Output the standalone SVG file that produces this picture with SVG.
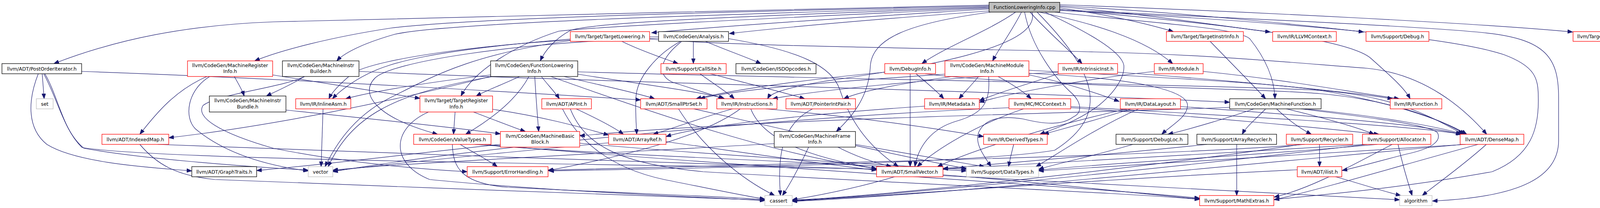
<svg xmlns="http://www.w3.org/2000/svg" width="4227" height="533" viewBox="0 0 4227 533">
<style>
.n rect{fill:#ffffff;stroke:#000000;stroke-width:1.3}
.n.r rect{stroke:#ff0000}
.n.s rect{stroke:#bfbfbf}
.n.root rect{fill:#bfbfbf}
.n text{font-family:"DejaVu Sans","Liberation Sans",Arial,sans-serif;font-size:12.4px;text-anchor:middle;fill:#000000}
#edges path{fill:none;stroke:#191970;stroke-width:1.2;marker-end:url(#arr)}
</style>
<defs>
<marker id="arr" markerUnits="userSpaceOnUse" markerWidth="14" markerHeight="10" refX="13" refY="5" orient="auto">
<path d="M0,0 L13,5 L0,10 z" fill="#191970" stroke="#191970" stroke-width="1"/>
</marker>
</defs>
<rect x="0" y="0" width="4227" height="533" fill="#ffffff"/>
<g id="edges">
<path d="M2532,13 C2000,25 1100,45 700,56 C480,64 300,100 138,163"/>
<path d="M2532,15 C2000,28 1250,42 1000,72 C850,95 720,128 652,156"/>
<path d="M2532,17 C2000,33 1150,55 1010,88 C940,108 885,132 862,156"/>
<path d="M2532,19 C2000,38 1520,55 1460,78 C1420,100 1395,130 1383,156"/>
<path d="M2532,21 C2000,45 1520,68 1430,80 C1320,115 1215,180 1180,246"/>
<path d="M2532,23 C2300,38 1900,62 1668,84"/>
<path d="M2532,28 C2300,45 2050,65 1867,86"/>
<path d="M2536,31 C2320,60 2232,100 2228,170 C2224,250 2180,300 2141,337"/>
<path d="M2600,31 C2530,80 2420,120 2360,163"/>
<path d="M2615,31 C2590,80 2560,120 2541,156"/>
<path d="M2675,31 C2780,80 2870,130 2877,167 C2880,200 2850,240 2813,270 C2760,310 2700,330 2662,344"/>
<path d="M2623,31 C2640,120 2700,200 2745,240 C2770,265 2770,290 2747,300 C2720,320 2680,320 2620,305 C2560,295 2520,305 2505,340 C2495,370 2520,400 2537,427"/>
<path d="M2637,31 C2680,80 2740,130 2770,163"/>
<path d="M2660,31 C2800,60 2930,100 3002,163"/>
<path d="M2713,20 C2850,40 2950,65 3004,81"/>
<path d="M2713,17 C2950,38 3150,70 3252,82"/>
<path d="M2713,15 C3000,30 3350,65 3491,82"/>
<path d="M2713,12 C3200,30 3800,60 4026,82"/>
<path d="M2700,31 C2950,60 3170,70 3200,100 C3240,150 3262,200 3264,253"/>
<path d="M2713,24 C3100,60 3450,95 3510,150 C3560,195 3595,225 3610,253"/>
<path d="M2634,192 C2700,205 2800,235 2865,260"/>
<path d="M2642,31 C2670,130 2300,180 2100,210 C2000,228 1972,240 1965,253"/>
<path d="M2655,31 C2800,180 2850,290 2700,385 C2500,420 1700,432 1405,438"/>
<path d="M2713,27 C3200,50 3700,90 3850,140 C3930,170 3938,200 3938,250 C3940,330 3920,400 3820,440 C3600,480 3400,498 3262,511"/>
<path d="M2713,25 C3200,48 3650,68 3800,84 C3960,100 3990,150 3990,250 L3990,360 C3990,450 3900,505 3667,515"/>
<path d="M1256,192 C1100,210 950,235 885,253"/>
<path d="M1330,196 C1290,215 1245,232 1219,246"/>
<path d="M1354,196 C1320,260 1250,310 1192,344"/>
<path d="M1369,196 C1372,250 1376,300 1379,337"/>
<path d="M1386,196 C1400,215 1420,235 1432,253"/>
<path d="M1444,196 C1520,215 1620,235 1676,253"/>
<path d="M1479,190 C1600,210 1800,235 1855,253"/>
<path d="M1410,196 C1700,300 2000,400 2244,432"/>
<path d="M1479,184 C2000,200 3000,215 3350,230 C3550,240 3650,290 3745,344"/>
<path d="M1256,196 C1000,260 700,322 432,353"/>
<path d="M1262,196 C1000,240 900,300 840,427"/>
<path d="M1592,106 C1640,130 1700,150 1736,163"/>
<path d="M1460,100 C1100,130 1000,160 940,190 C900,210 868,235 851,253"/>
<path d="M1460,104 C1200,140 1100,200 1000,250 C900,300 855,380 832,427"/>
<path d="M1663,100 C1900,120 2500,125 2800,133 C3100,140 3300,160 3500,175 C3650,190 3750,280 3806,344"/>
<path d="M1775,106 L1775,163"/>
<path d="M1806,106 C1850,125 1920,150 1948,163"/>
<path d="M1742,106 C1680,140 1630,200 1628,250 C1626,290 1629,320 1630,344"/>
<path d="M1745,106 C1690,150 1680,190 1720,210 C1780,230 1830,245 1852,253"/>
<path d="M1686,98 C1300,110 1000,160 960,200 C920,240 960,300 1120,344"/>
<path d="M1686,94 C1300,100 950,150 900,190 C870,215 850,235 842,253"/>
<path d="M1865,99 C2050,130 2130,170 2150,230 C2180,320 2230,380 2300,427"/>
<path d="M1792,189 C1820,210 1860,235 1880,253"/>
<path d="M1818,189 C1900,210 2000,235 2060,253"/>
<path d="M2330,189 L2330,427"/>
<path d="M2345,189 C2370,210 2400,235 2416,253"/>
<path d="M2265,185 C2100,200 1900,225 1782,253"/>
<path d="M2368,189 C2600,220 3200,225 3380,240 C3550,255 3680,300 3750,344"/>
<path d="M2505,196 C2490,215 2470,235 2455,253"/>
<path d="M2555,196 C2590,215 2620,235 2640,253"/>
<path d="M2531,196 C2535,260 2520,290 2450,310 C2380,330 2350,380 2342,427"/>
<path d="M2634,180 C3000,200 3300,215 3400,235 C3550,262 3680,300 3755,344"/>
<path d="M2438,196 C2300,215 2200,235 2160,253"/>
<path d="M2419,190 C2200,205 1900,225 1792,253"/>
<path d="M2634,188 C2900,200 3040,230 3040,270 C3040,300 3000,320 2974,344"/>
<path d="M2709,185 C2400,200 2100,230 1978,253"/>
<path d="M2709,189 C2650,210 2560,235 2507,258"/>
<path d="M2861,185 C3200,210 3450,235 3565,253"/>
<path d="M3080,183 C3300,205 3450,235 3582,253"/>
<path d="M2955,183 C2800,200 2600,235 2507,262"/>
<path d="M3022,273 C3400,300 3650,320 3740,344"/>
<path d="M2885,279 C2700,320 2500,380 2400,427"/>
<path d="M2895,279 C2800,310 2720,330 2672,344"/>
<path d="M2915,279 C2800,330 2700,400 2652,427"/>
<path d="M3210,279 C3150,300 3050,330 2990,344"/>
<path d="M3240,279 C3220,300 3190,325 3180,344"/>
<path d="M3268,279 C3290,300 3320,325 3357,344"/>
<path d="M3293,279 C3380,300 3470,325 3518,344"/>
<path d="M3148,275 C2800,290 2000,300 1484,348"/>
<path d="M3330,279 C3500,300 3660,320 3680,340 C3690,360 3670,380 3600,395 C3540,410 3490,425 3436,437"/>
<path d="M3340,279 C3550,300 3680,325 3748,344"/>
<path d="M3098,106 C3150,160 3200,210 3240,253"/>
<path d="M2595,370 C2590,390 2585,410 2582,427"/>
<path d="M2620,279 C2500,320 2400,380 2348,427"/>
<path d="M2741,273 C3200,300 3600,320 3742,344"/>
<path d="M2741,276 C3100,300 3400,330 3530,344"/>
<path d="M2583,276 C2000,300 1200,380 852,440"/>
<path d="M2367,272 C2100,290 1800,320 1705,350"/>
<path d="M1475,279 C1520,300 1570,325 1596,344"/>
<path d="M1460,279 C1500,380 1600,420 1800,440 C2300,470 2900,495 3071,511"/>
<path d="M1440,279 C1480,360 1560,430 1700,460 C1850,490 1920,505 1958,510"/>
<path d="M1737,279 C1800,380 1900,460 1983,501"/>
<path d="M1776,279 C2000,330 2300,400 2474,432"/>
<path d="M1875,279 C1800,300 1720,330 1672,344"/>
<path d="M1895,279 C1800,350 1600,400 1403,437"/>
<path d="M1922,279 C1950,350 2050,400 2244,432"/>
<path d="M1960,279 C2200,300 2400,330 2518,350"/>
<path d="M2080,279 C2000,320 1990,400 1998,501"/>
<path d="M1705,363 C1900,390 2100,420 2244,436"/>
<path d="M1558,366 C1300,390 1000,420 852,438"/>
<path d="M2145,377 C2180,395 2230,415 2282,427"/>
<path d="M2190,370 C2300,390 2450,415 2520,427"/>
<path d="M2070,377 C2050,420 2030,460 2003,501"/>
<path d="M1982,368 C1600,390 1000,420 852,436"/>
<path d="M1178,370 C1210,390 1250,410 1273,427"/>
<path d="M1215,370 C1600,400 2200,420 2474,438"/>
<path d="M1240,370 C1800,420 2800,480 3071,508"/>
<path d="M1158,370 C1160,430 1180,470 1300,480 C1600,495 1900,505 1958,512"/>
<path d="M1165,287 L1161,344"/>
<path d="M1212,287 C1260,305 1310,325 1345,337"/>
<path d="M1261,280 C1400,300 1500,330 1558,346"/>
<path d="M1097,287 C1000,330 1000,420 1100,460 C1400,490 1800,505 1958,514"/>
<path d="M1281,370 C1000,400 800,425 657,437"/>
<path d="M1484,367 C1800,395 2200,420 2474,434"/>
<path d="M732,282 C950,305 1150,325 1281,343"/>
<path d="M779,196 C750,215 715,230 682,246"/>
<path d="M919,183 C1500,210 2500,230 3148,262"/>
<path d="M780,196 C720,225 560,240 520,270 C500,300 560,340 700,380 C900,420 1100,435 1196,440"/>
<path d="M530,196 C450,230 400,290 358,344"/>
<path d="M600,196 C610,215 620,230 625,246"/>
<path d="M698,192 C850,215 1000,240 1075,252"/>
<path d="M537,196 C480,230 470,300 500,330 C560,380 650,420 789,438"/>
<path d="M108,189 L113,253"/>
<path d="M98,189 C70,260 70,330 120,370 C200,420 400,430 491,438"/>
<path d="M209,183 C700,200 1300,235 1640,256"/>
<path d="M115,189 C150,250 160,330 210,378 C400,410 1500,420 2244,433"/>
<path d="M112,189 C150,260 165,340 215,380 C350,405 600,425 789,436"/>
<path d="M404,370 C900,390 1800,420 2244,434"/>
<path d="M358,370 C400,420 450,450 550,460 C1000,480 1700,500 1958,513"/>
<path d="M827,279 L822,427"/>
<path d="M2414,448 C2700,470 2900,495 3071,510"/>
<path d="M2290,453 C2200,480 2100,500 2028,512"/>
<path d="M2414,450 C3000,480 3400,500 3583,512"/>
<path d="M2900,370 C2800,400 2700,420 2659,434"/>
<path d="M3166,370 L3166,501"/>
<path d="M3090,370 C2800,400 2550,420 2414,432"/>
<path d="M3378,370 L3378,427"/>
<path d="M3340,370 C3000,400 2000,420 1403,436"/>
<path d="M3330,370 C3000,420 2300,500 2028,513"/>
<path d="M3564,370 C3450,430 3350,485 3262,505"/>
<path d="M3526,370 C3200,400 2800,420 2659,436"/>
<path d="M3579,370 C3590,420 3605,470 3615,501"/>
<path d="M3500,370 C3000,430 2300,500 2028,514"/>
<path d="M3495,370 C3100,395 2600,420 2414,433"/>
<path d="M3321,435 C2800,460 2300,500 2028,515"/>
<path d="M3419,453 C3480,470 3540,490 3586,501"/>
<path d="M3805,370 C3750,420 3680,470 3641,501"/>
<path d="M3784,370 C3600,420 3400,480 3262,512"/>
<path d="M3752,370 C3300,400 2900,420 2659,438"/>
<path d="M3745,370 C3200,420 2400,500 2028,516"/>
</g>
<g id="cpp" class="n root"><rect x="2532" y="6" width="181" height="25"/><text x="2622.5" y="23">FunctionLoweringInfo.cpp</text></g>
<g id="tlow" class="n r"><rect x="1460" y="81" width="203" height="25"/><text x="1561.5" y="98">llvm/Target/TargetLowering.h</text></g>
<g id="analysis" class="n"><rect x="1686" y="81" width="179" height="25"/><text x="1775.5" y="98">llvm/CodeGen/Analysis.h</text></g>
<g id="tii" class="n r"><rect x="2986" y="81" width="197" height="25"/><text x="3084.5" y="98">llvm/Target/TargetInstrInfo.h</text></g>
<g id="llvmctx" class="n r"><rect x="3258" y="81" width="163" height="25"/><text x="3339.5" y="98">llvm/IR/LLVMContext.h</text></g>
<g id="debug" class="n r"><rect x="3497" y="81" width="161" height="25"/><text x="3577.5" y="98">llvm/Support/Debug.h</text></g>
<g id="topt" class="n r"><rect x="4027" y="81" width="194" height="25"/><text x="4123" y="98">llvm/Target/TargetOptions.h</text></g>
<g id="poi" class="n"><rect x="5" y="163" width="204" height="26"/><text x="107" y="180.5">llvm/ADT/PostOrderIterator.h</text></g>
<g id="mri" class="n r"><rect x="480" y="156" width="218" height="40"/><text x="589" y="172">llvm/CodeGen/MachineRegister</text><text x="589" y="187">Info.h</text></g>
<g id="mibuilder" class="n"><rect x="723" y="156" width="196" height="40"/><text x="821" y="172">llvm/CodeGen/MachineInstr</text><text x="821" y="187">Builder.h</text></g>
<g id="flih" class="n"><rect x="1256" y="156" width="223" height="40"/><text x="1367.5" y="172">llvm/CodeGen/FunctionLowering</text><text x="1367.5" y="187">Info.h</text></g>
<g id="callsite" class="n r"><rect x="1692" y="163" width="167" height="26"/><text x="1775.5" y="180.5">llvm/Support/CallSite.h</text></g>
<g id="isd" class="n"><rect x="1884" y="163" width="205" height="26"/><text x="1986.5" y="180.5">llvm/CodeGen/ISDOpcodes.h</text></g>
<g id="debuginfo" class="n r"><rect x="2265" y="163" width="130" height="26"/><text x="2330" y="180.5">llvm/DebugInfo.h</text></g>
<g id="mmi" class="n r"><rect x="2419" y="156" width="215" height="40"/><text x="2526.5" y="172">llvm/CodeGen/MachineModule</text><text x="2526.5" y="187">Info.h</text></g>
<g id="intrinsic" class="n r"><rect x="2709" y="163" width="152" height="26"/><text x="2785" y="180.5">llvm/IR/IntrinsicInst.h</text></g>
<g id="module" class="n r"><rect x="2955" y="163" width="125" height="26"/><text x="3017.5" y="180.5">llvm/IR/Module.h</text></g>
<g id="set" class="n s"><rect x="93" y="253" width="43" height="26"/><text x="114.5" y="270.5">set</text></g>
<g id="mibundle" class="n"><rect x="536" y="246" width="196" height="41"/><text x="634" y="262">llvm/CodeGen/MachineInstr</text><text x="634" y="277.5">Bundle.h</text></g>
<g id="inlineasm" class="n r"><rect x="757" y="253" width="141" height="26"/><text x="827.5" y="270.5">llvm/IR/InlineAsm.h</text></g>
<g id="tri" class="n r"><rect x="1075" y="246" width="186" height="41"/><text x="1168" y="262">llvm/Target/TargetRegister</text><text x="1168" y="277.5">Info.h</text></g>
<g id="apint" class="n r"><rect x="1387" y="253" width="127" height="26"/><text x="1450.5" y="270.5">llvm/ADT/APInt.h</text></g>
<g id="smallptrset" class="n r"><rect x="1640" y="253" width="170" height="26"/><text x="1725" y="270.5">llvm/ADT/SmallPtrSet.h</text></g>
<g id="instructions" class="n r"><rect x="1835" y="253" width="154" height="26"/><text x="1912" y="270.5">llvm/IR/Instructions.h</text></g>
<g id="pip" class="n r"><rect x="2012" y="253" width="178" height="26"/><text x="2101" y="270.5">llvm/ADT/PointerIntPair.h</text></g>
<g id="metadata" class="n r"><rect x="2367" y="253" width="140" height="26"/><text x="2437" y="270.5">llvm/IR/Metadata.h</text></g>
<g id="mccontext" class="n r"><rect x="2583" y="253" width="158" height="26"/><text x="2662" y="270.5">llvm/MC/MCContext.h</text></g>
<g id="datalayout" class="n r"><rect x="2868" y="253" width="154" height="26"/><text x="2945" y="270.5">llvm/IR/DataLayout.h</text></g>
<g id="mf" class="n"><rect x="3148" y="253" width="234" height="26"/><text x="3265" y="270.5">llvm/CodeGen/MachineFunction.h</text></g>
<g id="function" class="n r"><rect x="3559" y="253" width="132" height="26"/><text x="3625" y="270.5">llvm/IR/Function.h</text></g>
<g id="indexedmap" class="n r"><rect x="261" y="344" width="171" height="26"/><text x="346.5" y="361.5">llvm/ADT/IndexedMap.h</text></g>
<g id="valuetypes" class="n r"><rect x="1059" y="344" width="198" height="26"/><text x="1158" y="361.5">llvm/CodeGen/ValueTypes.h</text></g>
<g id="mbb" class="n r"><rect x="1281" y="337" width="203" height="40"/><text x="1382.5" y="353">llvm/CodeGen/MachineBasic</text><text x="1382.5" y="368">Block.h</text></g>
<g id="arrayref" class="n r"><rect x="1558" y="344" width="147" height="26"/><text x="1631.5" y="361.5">llvm/ADT/ArrayRef.h</text></g>
<g id="mfi" class="n"><rect x="1982" y="337" width="208" height="40"/><text x="2086" y="353">llvm/CodeGen/MachineFrame</text><text x="2086" y="368">Info.h</text></g>
<g id="derivedtypes" class="n r"><rect x="2518" y="344" width="163" height="26"/><text x="2599.5" y="361.5">llvm/IR/DerivedTypes.h</text></g>
<g id="debugloc" class="n"><rect x="2857" y="344" width="184" height="26"/><text x="2949" y="361.5">llvm/Support/DebugLoc.h</text></g>
<g id="arrayrecycler" class="n"><rect x="3064" y="344" width="204" height="26"/><text x="3166" y="361.5">llvm/Support/ArrayRecycler.h</text></g>
<g id="recycler" class="n r"><rect x="3293" y="344" width="170" height="26"/><text x="3378" y="361.5">llvm/Support/Recycler.h</text></g>
<g id="allocator" class="n r"><rect x="3488" y="344" width="175" height="26"/><text x="3575.5" y="361.5">llvm/Support/Allocator.h</text></g>
<g id="densemap" class="n r"><rect x="3738" y="344" width="163" height="26"/><text x="3819.5" y="361.5">llvm/ADT/DenseMap.h</text></g>
<g id="graphtraits" class="n"><rect x="491" y="427" width="166" height="26"/><text x="574" y="444.5">llvm/ADT/GraphTraits.h</text></g>
<g id="vector" class="n s"><rect x="789" y="427" width="63" height="26"/><text x="820.5" y="444.5">vector</text></g>
<g id="errorhandling" class="n r"><rect x="1196" y="427" width="207" height="26"/><text x="1299.5" y="444.5">llvm/Support/ErrorHandling.h</text></g>
<g id="smallvector" class="n r"><rect x="2244" y="427" width="170" height="26"/><text x="2329" y="444.5">llvm/ADT/SmallVector.h</text></g>
<g id="datatypes" class="n s"><rect x="2474" y="427" width="185" height="26"/><text x="2566.5" y="444.5">llvm/Support/DataTypes.h</text></g>
<g id="ilist" class="n r"><rect x="3321" y="427" width="114" height="26"/><text x="3378" y="444.5">llvm/ADT/ilist.h</text></g>
<g id="cassert" class="n s"><rect x="1958" y="501" width="70" height="26"/><text x="1993" y="518.5">cassert</text></g>
<g id="mathextras" class="n r"><rect x="3071" y="501" width="190" height="26"/><text x="3166" y="518.5">llvm/Support/MathExtras.h</text></g>
<g id="algorithm" class="n s"><rect x="3583" y="501" width="83" height="26"/><text x="3624.5" y="518.5">algorithm</text></g>
</svg>
